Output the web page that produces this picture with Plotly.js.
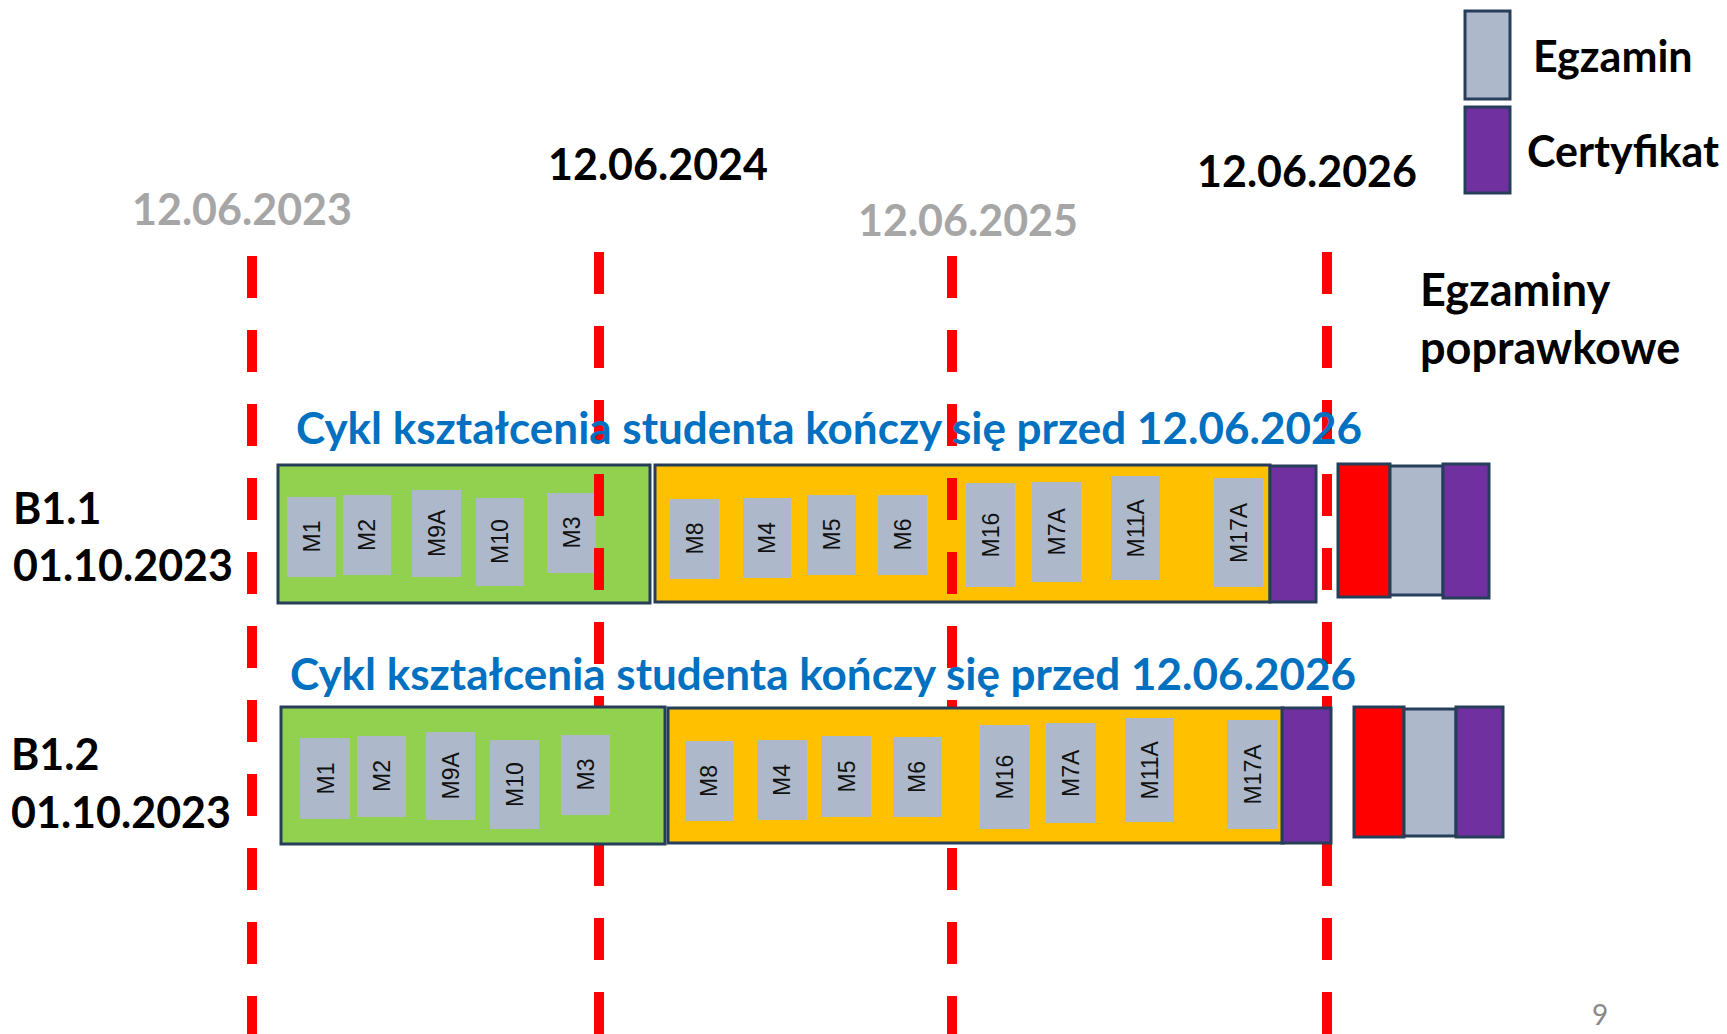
<!DOCTYPE html>
<html><head><meta charset="utf-8">
<script src="https://cdn.plot.ly/plotly-3.0.1.min.js"></script>
<style>html,body{margin:0;padding:0;background:#fff;overflow:hidden}#chart{width:1727px;height:1034px}</style>
</head><body><div id="chart"></div>
<script>
// ---------------- data ----------------
const cohorts = ['B1.1', 'B1.2'];
const cohortStart = ['01.10.2023', '01.10.2023'];
const firstYearModules = ['M1', 'M2', 'M9A', 'M10', 'M3'];
const secondYearModules = ['M8', 'M4', 'M5', 'M6', 'M16', 'M7A', 'M11A', 'M17A'];
const milestoneDates = ['12.06.2023', '12.06.2024', '12.06.2025', '12.06.2026'];
const milestoneHighlighted = [false, true, false, true];
const cycleNote = 'Cykl kształcenia studenta kończy się przed 12.06.2026';
const legendLabels = ['Egzamin', 'Certyfikat'];
const retakeLabel = ['Egzaminy', 'poprawkowe'];
const pageNumber = '9';

// ---------------- geometry (pixels on hidden axes) ----------------
const milestoneX = [252, 599, 952, 1327];
const milestoneTop = [256, 252, 256, 252];
const milestoneLabelPos = [[242, 208], [658, 163], [968, 219], [1307, 170]];
const rowGeom = [
  {
    label: [11, 507, 564], note: [829, 427],
    green: [278, 650, 465, 603], yellow: [655, 1270, 465, 602], cert: [1270, 1316, 466, 602],
    retake: [[1338, 1390, 464, 597], [1390, 1443, 466, 595], [1443, 1489, 464, 598]],
    g: [[287, 336, 497, 577], [343, 391, 495, 575], [412, 461, 490, 577], [476, 524, 498, 586], [547, 596, 493, 573]],
    y: [[670, 719, 499, 579], [743, 791, 498, 578], [807, 856, 495, 575], [878, 927, 495, 575],
        [966, 1015, 483, 587], [1032, 1081, 482, 582], [1111, 1160, 476, 580], [1214, 1263, 478, 587]]
  },
  {
    label: [9, 753, 811], note: [823, 673],
    green: [281, 665, 707, 844], yellow: [668, 1283, 708, 843], cert: [1282, 1331, 708, 843],
    retake: [[1354, 1404, 707, 837], [1404, 1456, 709, 836], [1456, 1503, 707, 837]],
    g: [[300, 350, 738, 819], [357, 406, 736, 817], [426, 475, 732, 820], [490, 539, 740, 829], [561, 610, 735, 815]],
    y: [[685, 733, 741, 821], [757, 807, 740, 820], [821, 871, 736, 817], [893, 941, 737, 817],
        [980, 1029, 725, 829], [1046, 1096, 723, 823], [1125, 1174, 718, 822], [1227, 1277, 720, 829]]
  }
];

// ---------------- styles ----------------
const C = { green: '#92D050', yellow: '#FFC000', purple: '#7030A0', exam: '#ADB9CA', red: '#FF0000',
  border: '#263E5A', blue: '#0070C0', grey: '#A6A6A6', black: '#000000' };
const FONT = 'Lato, "Open Sans", "Noto Sans", sans-serif';
const BIG = 43;
const MODFONT = { family: '"Liberation Sans", Arial, sans-serif', size: 23, color: '#111' };

const shapes = [];
const annotations = [];
function rect(b, fill, border, layer) {
  shapes.push({ type: 'rect', xref: 'x', yref: 'y', x0: b[0], x1: b[1], y0: b[2], y1: b[3], layer: layer,
    fillcolor: fill, line: border ? { color: C.border, width: 3 } : { width: 0 } });
}
function text(t, x, y, opts) {
  annotations.push(Object.assign({ text: t, x: x, y: y, xref: 'x', yref: 'y', showarrow: false,
    xanchor: 'center', yanchor: 'middle', font: { family: FONT, size: BIG, color: C.black, weight: 700 } }, opts || {}));
}
function drawRow(r, i, layer) {
  rect(r.green, C.green, true, layer);
  rect(r.yellow, C.yellow, true, layer);
  rect(r.cert, C.purple, true, layer);
  rect(r.retake[0], C.red, true, layer);
  rect(r.retake[1], C.exam, true, layer);
  rect(r.retake[2], C.purple, true, layer);
  firstYearModules.forEach((m, k) => {
    const b = r.g[k]; rect(b, C.exam, false, layer);
    text(m, (b[0] + b[1]) / 2, (b[2] + b[3]) / 2, { textangle: -90, font: MODFONT });
  });
  secondYearModules.forEach((m, k) => {
    const b = r.y[k]; rect(b, C.exam, false, layer);
    text(m, (b[0] + b[1]) / 2, (b[2] + b[3]) / 2, { textangle: -90, font: MODFONT });
  });
  text(cohorts[i], r.label[0], r.label[1], { xanchor: 'left' });
  text(cohortStart[i], r.label[0], r.label[2], { xanchor: 'left' });
  text(cycleNote, r.note[0], r.note[1], { font: { family: FONT, size: 44, color: C.blue, weight: 700 } });
}

// row 1 boxes beneath the dashed lines
drawRow(rowGeom[0], 0, 'below');
// milestone lines
milestoneDates.forEach((d, k) => {
  shapes.push({ type: 'line', xref: 'x', yref: 'y', x0: milestoneX[k], x1: milestoneX[k], y0: milestoneTop[k], y1: 1034,
    layer: 'above', line: { color: C.red, width: 10, dash: '42px,32px' } });
  text(d, milestoneLabelPos[k][0], milestoneLabelPos[k][1],
    { font: { family: FONT, size: BIG, color: milestoneHighlighted[k] ? C.black : C.grey, weight: 700 } });
});
// row 2 boxes above the dashed lines
drawRow(rowGeom[1], 1, 'above');

// legend
rect([1465, 1510, 11, 99], C.exam, true, 'above');
rect([1465, 1510, 107, 193], C.purple, true, 'above');
text(legendLabels[0], 1531, 55, { xanchor: 'left' });
text(legendLabels[1], 1525, 150, { xanchor: 'left' });
text(retakeLabel[0], 1418, 289, { xanchor: 'left', font: { family: FONT, size: 45, color: C.black, weight: 700 } });
text(retakeLabel[1], 1418, 347, { xanchor: 'left', font: { family: FONT, size: 45, color: C.black, weight: 700 } });
text(pageNumber, 1600, 1014, { font: { family: FONT, size: 28, color: '#898989', weight: 400 } });

const layout = {
  width: 1727, height: 1034, margin: { l: 0, r: 0, t: 0, b: 0 },
  paper_bgcolor: '#fff', plot_bgcolor: '#fff', showlegend: false,
  xaxis: { range: [0, 1727], visible: false, fixedrange: true },
  yaxis: { range: [1034, 0], visible: false, fixedrange: true },
  shapes: shapes, annotations: annotations
};
Plotly.newPlot('chart', [], layout, { displayModeBar: false, staticPlot: true });
</script>
</body></html>
